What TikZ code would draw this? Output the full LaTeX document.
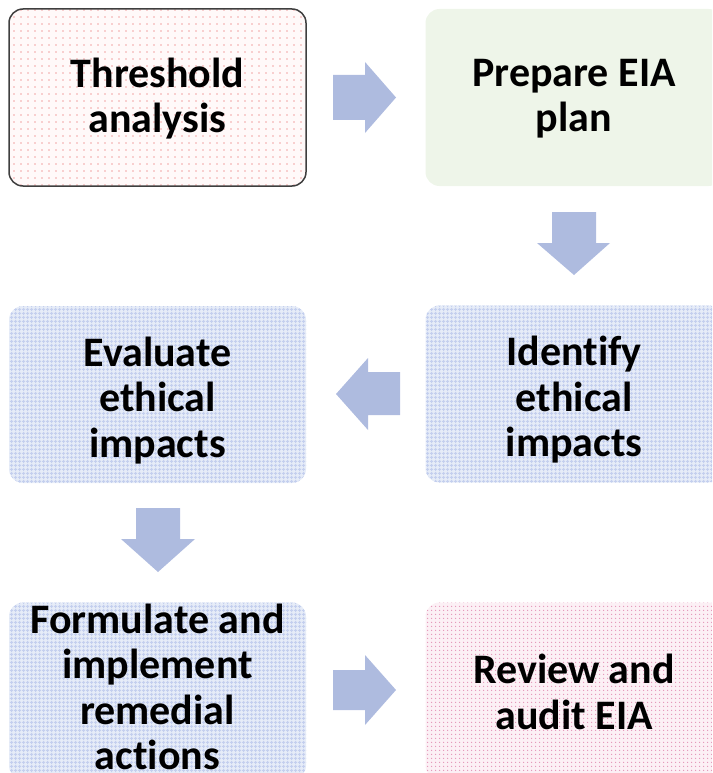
\documentclass[tikz,border=0pt]{standalone}
\usepackage{fontspec}
\setmainfont{Carlito}[Ligatures=NoCommon]
\usetikzlibrary{patterns.meta}
\definecolor{arrowblue}{HTML}{AEBBDF}
\definecolor{framegray}{HTML}{3F3F3F}
\definecolor{dotpink}{HTML}{F2A6A6}
\definecolor{pinkbase}{HTML}{FFF9F9}
\definecolor{greenfill}{HTML}{EEF5E9}
\definecolor{bluebase}{HTML}{E6ECF8}
\definecolor{bluegrid}{HTML}{C4CFEE}
\definecolor{rosebase}{HTML}{FCF0F5}
\definecolor{pinkdot}{HTML}{E393B6}
\tikzset{
  stepbox/.style={rectangle, rounded corners=14pt, minimum width=297pt, minimum height=177pt,
    inner sep=0pt},
  steptext/.style={inner sep=0pt, align=center, font=\fontsize{42}{45.5}\selectfont\bfseries, text=black},
  pinkbox/.style={stepbox, draw=framegray, line width=1.5pt,
    preaction={fill=pinkbase},
    preaction={pattern={Dots[radius=0.9pt, distance=7pt]}, pattern color=dotpink}},
  greenbox/.style={stepbox, fill=greenfill},
  bluebox/.style={stepbox, fill=bluebase,
    postaction={pattern={Hatch[distance=4pt, line width=1.3pt]}, pattern color=bluegrid}},
  rosebox/.style={stepbox, fill=rosebase,
    postaction={pattern={Dots[radius=0.85pt, distance=4pt]}, pattern color=pinkdot}},
  blockarrow/.style={fill=arrowblue}
}
\begin{document}
\begin{tikzpicture}[x=1pt, y=1pt]
\useasboundingbox (0,0) rectangle (712,-773);
\clip (0,0) rectangle (712,-773);
\node[pinkbox]  (b1) at (157.5,-97.5) {};
\node[greenbox] (b2) at (574,-97.5)   {};
\node[bluebox]  (b3) at (574,-394)    {};
\node[bluebox]  (b4) at (157.5,-394.5){};
\node[bluebox]  (b5) at (157.5,-691)  {};
\node[rosebox]  (b6) at (574,-691)    {};
\node[steptext] (t1) at ([yshift=-1pt]b1.center) {Threshold\\analysis};
\node[steptext] (t2) at ([yshift=-1pt]b2.center) {Prepare EIA\\plan};
\node[steptext] (t3) at ([yshift=-6pt]b3.center) {Identify\\ethical\\impacts};
\node[steptext] (t4) at ([yshift=-6pt]b4.center) {Evaluate\\ethical\\impacts};
\node[steptext] (t5) at ([yshift=4pt]b5.center)  {Formulate and\\implement\\remedial\\actions};
\node[steptext] (t6) at ([yshift=-1pt]b6.center) {Review and\\audit EIA};
% block arrows
\fill[blockarrow] (333,-75) -- (365,-75) -- (365,-62) -- (396,-97.5) -- (365,-133) -- (365,-120) -- (333,-120) -- cycle;
\fill[blockarrow] (552,-212) -- (596,-212) -- (596,-243) -- (610,-243) -- (574,-275) -- (537,-243) -- (552,-243) -- cycle;
\fill[blockarrow] (400,-372) -- (368,-372) -- (368,-358) -- (336,-394) -- (368,-430) -- (368,-415) -- (400,-415) -- cycle;
\fill[blockarrow] (136,-508) -- (180,-508) -- (180,-539) -- (195,-539) -- (158,-572) -- (121,-539) -- (136,-539) -- cycle;
\fill[blockarrow] (333,-670) -- (365,-670) -- (365,-655) -- (396,-690) -- (365,-725) -- (365,-710) -- (333,-710) -- cycle;
\end{tikzpicture}
\end{document}
